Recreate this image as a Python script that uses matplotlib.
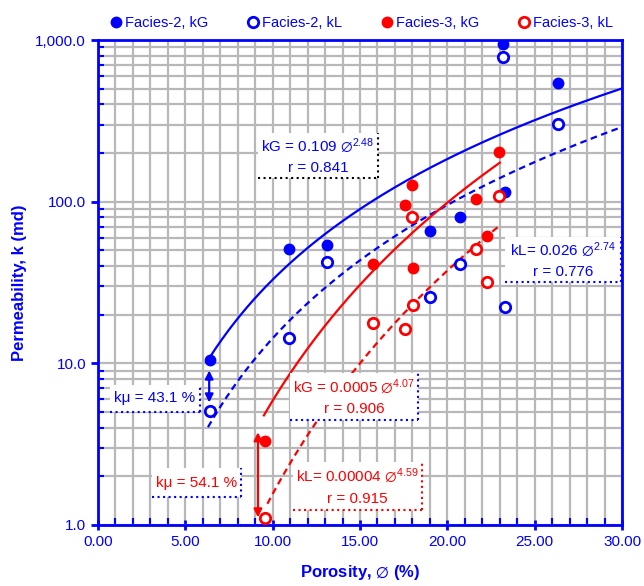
import numpy as np
import matplotlib
matplotlib.use('Agg')
import matplotlib.pyplot as plt
from matplotlib.patches import Rectangle
from matplotlib.ticker import MultipleLocator, FixedLocator, FuncFormatter, LogLocator, NullFormatter

plt.rcParams['font.family'] = ['Liberation Sans', 'DejaVu Sans']
plt.rcParams['mathtext.fontset'] = 'custom'
plt.rcParams['mathtext.rm'] = 'Liberation Sans'
plt.rcParams['mathtext.it'] = 'Liberation Sans:italic'
plt.rcParams['mathtext.bf'] = 'Liberation Sans:bold'

BLUE = '#0000ff'
RED = '#ff0000'
GRID = '#b8b8b8'

# Facies-2 samples
por_f2 = [6.4, 10.95, 13.1, 19.0, 20.7, 23.2, 23.3, 26.35]
kg_f2 = [10.5, 50.9, 54.0, 66.0, 80.0, 943.0, 115.0, 540.0]
kl_f2 = [5.1, 14.3, 42.5, 25.9, 41.0, 781.0, 22.3, 301.0]

# Facies-3 samples
por_f3 = [9.56, 15.75, 17.6, 17.95, 18.05, 21.65, 22.25, 22.95]
kg_f3 = [3.32, 41.0, 95.0, 127.0, 38.7, 104.0, 61.3, 203.0]
kl_f3 = [1.11, 17.7, 16.2, 80.0, 23.0, 50.7, 32.0, 108.0]

# power-law fits k = a * por^b  (a, b, x range)
fit_f2_kg = (0.109, 2.48, 6.4, 30.0)
fit_f2_kl = (0.026, 2.74, 6.3, 30.0)
fit_f3_kg = (0.0005, 4.07, 9.5, 23.0)
fit_f3_kl = (0.00004, 4.59, 9.7, 23.0)

fig = plt.figure(figsize=(6.44, 5.86), dpi=100)
ax = fig.add_axes([0.152, 0.1041, 0.814, 0.8276])
ax.set_yscale('log')
ax.set_xlim(0, 30)
ax.set_ylim(1, 1000)

# grid
ax.xaxis.set_major_locator(MultipleLocator(5))
ax.xaxis.set_minor_locator(MultipleLocator(1))
ax.yaxis.set_major_locator(LogLocator(base=10))
ax.yaxis.set_minor_locator(LogLocator(base=10, subs=np.arange(2, 10)))
ax.yaxis.set_minor_formatter(NullFormatter())
ax.grid(True, which='both', color=GRID, lw=1.6, zorder=0)
ax.set_axisbelow(True)

ax.xaxis.set_major_formatter(FuncFormatter(lambda v, p: '%.2f' % v))
ax.yaxis.set_major_formatter(FuncFormatter(lambda v, p: '{:,.1f}'.format(v)))

for s in ax.spines.values():
    s.set_color(BLUE)
    s.set_linewidth(2)
ax.tick_params(which='major', colors=BLUE, labelsize=11, width=2, length=7, direction='inout')
ax.tick_params(axis='y', which='major', direction='out', length=5)
ax.tick_params(which='minor', colors=BLUE, width=1.5, length=5, direction='in')
ax.tick_params(axis='y', which='minor', length=4)
for lab in ax.get_xticklabels() + ax.get_yticklabels():
    lab.set_color(BLUE)

ax.set_xlabel(r'Porosity, $\varnothing$ (%)', color=BLUE, fontsize=12, fontweight='bold', labelpad=10)
ax.set_ylabel('Permeability, k (md)', color=BLUE, fontsize=12, fontweight='bold', labelpad=6)

# fit curves
def draw_fit(fit, color, ls):
    a, b, x0, x1 = fit
    xs = np.linspace(x0, x1, 200)
    ax.plot(xs, a * xs ** b, color=color, ls=ls, lw=1.6, zorder=3,
            dashes=(3, 2) if ls == '--' else (None, None))

draw_fit(fit_f2_kg, BLUE, '-')
draw_fit(fit_f2_kl, BLUE, '--')
draw_fit(fit_f3_kg, RED, '-')
draw_fit(fit_f3_kl, RED, '--')

# points
ms = 7.5
ax.plot(por_f2, kg_f2, 'o', color=BLUE, ms=ms, zorder=6, label='Facies-2, kG')
ax.plot(por_f2, kl_f2, 'o', mfc='white', mec=BLUE, mew=2, ms=ms, zorder=6, label='Facies-2, kL')
ax.plot(por_f3, kg_f3, 'o', color=RED, ms=ms, zorder=6, label='Facies-3, kG')
ax.plot(por_f3, kl_f3, 'o', mfc='white', mec=RED, mew=2, ms=ms, zorder=6, label='Facies-3, kL')

# arrows for k difference
ax.annotate('', xy=(6.37, 5.5), xytext=(6.37, 9.4),
            arrowprops=dict(arrowstyle='<|-|>', color=BLUE, lw=1.6, mutation_scale=12), zorder=5)
ax.annotate('', xy=(9.16, 1.07), xytext=(9.16, 3.9),
            arrowprops=dict(arrowstyle='<|-|>', color=RED, lw=1.6, mutation_scale=12), zorder=5)

# annotation boxes
def box(x0, x1, y0, y1, text, tcolor, dcolor):
    ax.add_patch(Rectangle((x0, y0), x1 - x0, y1 - y0, facecolor='white',
                           edgecolor='none', zorder=4))
    ax.plot([x1, x1], [y0, y1], color=dcolor, ls=':', lw=1.5, zorder=4.5)
    ax.plot([x0, x1], [y0, y0], color=dcolor, ls=':', lw=1.5, zorder=4.5)
    xc = (x0 + x1) / 2
    yc = np.sqrt(y0 * y1)
    ax.text(xc, yc, text, color=tcolor, fontsize=11, ha='center', va='center',
            linespacing=1.5, zorder=5)

box(9.16, 16.03, 140, 266, 'kG = 0.109 $\\varnothing^{2.48}$\nr = 0.841', BLUE, 'black')
box(23.3, 29.95, 31.8, 60.4, 'kL= 0.026 $\\varnothing^{2.74}$\nr = 0.776', BLUE, BLUE)
box(0.69, 5.84, 5.0, 7.35, 'k\u03bc = 43.1 %', BLUE, BLUE)
box(11.0, 18.3, 4.47, 8.7, 'kG = 0.0005 $\\varnothing^{4.07}$\nr = 0.906', RED, BLUE)
box(11.16, 18.55, 1.24, 2.45, 'kL= 0.00004 $\\varnothing^{4.59}$\nr = 0.915', RED, RED)
box(3.09, 8.19, 1.49, 2.25, 'k\u03bc = 54.1 %', RED, BLUE)

leg = ax.legend(loc='lower center', bbox_to_anchor=(0.5, 1.0), ncol=4, frameon=False,
                fontsize=10.5, handletextpad=0.0, columnspacing=2.5, handlelength=1.2,
                borderaxespad=0.3)
for t in leg.get_texts():
    t.set_color(BLUE)

fig.savefig('out.png', dpi=100)
